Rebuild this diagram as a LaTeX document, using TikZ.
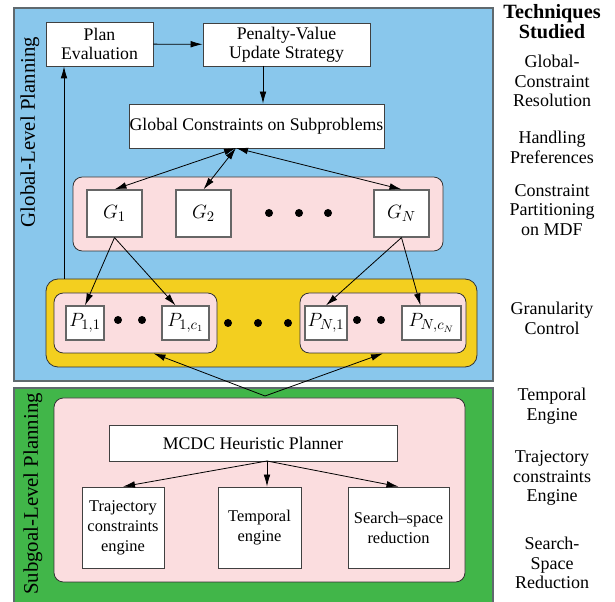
\documentclass[tikz,border=0pt]{standalone}
\usepackage{fontspec}
\setmainfont{Liberation Serif}
\usetikzlibrary{arrows.meta, fit, calc}
\definecolor{planblue}{RGB}{137,199,236}
\definecolor{subgreen}{RGB}{65,182,73}
\definecolor{partpink}{RGB}{251,221,223}
\definecolor{granyellow}{RGB}{243,207,31}
\definecolor{framegray}{RGB}{95,105,110}

\begin{document}
\begin{tikzpicture}[x=0.75pt, y=-0.75pt,
    >={Latex[length=9pt,width=5pt]},
    wh/.style 2 args={minimum width=#1*0.75pt, minimum height=#2*0.75pt},
    level/.style={draw=framegray, line width=0.8pt, inner sep=0pt},
    group/.style={draw=black!80, fill=partpink, rounded corners=7pt, inner sep=0pt, line width=0.6pt},
    box/.style={draw=black!75, fill=white, align=center, inner sep=0pt, line width=0.6pt,
        font=\fontsize{13.3}{14}\selectfont},
    ebox/.style={box, font=\fontsize{12.3}{15}\selectfont},
    mbox/.style={draw=black!60, fill=white, inner sep=0pt, line width=0.9pt, font=\fontsize{15}{16}\selectfont},
    sidelabel/.style={rotate=90, font=\fontsize{15.6}{17}\selectfont},
    tech/.style={align=center, font=\fontsize{13.5}{14.8}\selectfont},
    conn/.style={line width=0.6pt}]
    \useasboundingbox (0,0) rectangle (615,602);

    % planning levels
    \node[level, fill=planblue, fit={(14,8) (493,381)}] (glob) {};
    \node[level, fill=subgreen, fit={(14,388) (493,603)}] (subg) {};
    \node[sidelabel] (globlbl) at (30,132) {Global-Level Planning};
    \node[sidelabel] (subglbl) at (33,494) {Subgoal-Level Planning};

    % global level
    \node[box, wh={107}{44}] (eval) at (99.5,44) {Plan\\Evaluation};
    \node[box, wh={167}{43}] (penalty) at (286.5,44.5) {Penalty-Value\\Update Strategy};
    \node[box, wh={255}{44}] (gcons) at (256.5,126) {Global Constraints on Subproblems};

    % partitioned constraints
    \node[group, fit={(73,177) (443,251)}] (ggrp) {};
    \node[mbox, wh={55}{47}] (g1) at (114.5,213.5) {$G_1$};
    \node[mbox, wh={55}{47}] (g2) at (203.5,213.5) {$G_2$};
    \node[mbox, wh={55}{47}] (gn) at (401.5,213.5) {$G_N$};
    \foreach \x in {269,299,328}
        \fill (\x,213) circle (3pt);

    % granularity
    \node[group, fill=granyellow, rounded corners=9pt, fit={(46,279) (477,367)}] (gran) {};
    \node[group, fit={(54,293) (217,353)}] (lgrp) {};
    \node[group, fit={(300,293) (466,353)}] (rgrp) {};
    \node[mbox, wh={38}{34}] (p11) at (85,323) {$P_{1,1}$};
    \node[mbox, wh={47}{34}] (p1c) at (185.5,323) {$P_{1,c_1}$};
    \node[mbox, wh={42}{34}] (pn1) at (326,323) {$P_{N,1}$};
    \node[mbox, wh={59}{34}] (pnc) at (431.5,323) {$P_{N,c_N}$};
    \foreach \x in {118,142,357,381}
        \fill (\x,320) circle (3pt);
    \foreach \x in {228,258,288}
        \fill (\x,323) circle (3pt);

    % subgoal level
    \node[group, fit={(54,398) (465,582)}] (sgrp) {};
    \node[box, wh={288}{36}] (mcdc) at (253,443) {MCDC Heuristic Planner};
    \node[ebox, wh={82}{81}] (traj) at (123,527.5) {Trajectory\\constraints\\engine};
    \node[ebox, wh={83}{81}] (temp) at (259.5,527.5) {Temporal\\engine};
    \node[ebox, wh={101}{81}] (srch) at (398.5,527.5) {Search--space\\reduction};

    % connectors
    \coordinate (fb) at (64,279);
    \coordinate (upd) at (263,66);
    \coordinate (hub) at (236,148);
    \coordinate (vtip) at (265,396);
    \coordinate (mfoot) at (267,461);
    \draw[conn,->] (fb) -- (fb |- eval.south);
    \draw[conn,->] (eval) -- (penalty);
    \draw[conn,->] (upd) -- (upd |- gcons.north);
    \draw[conn,<->] (hub) -- (g1.north);
    \draw[conn,<->] (hub) -- (g2.north);
    \draw[conn,<->] (hub) -- (gn.north);
    \draw[conn,->] (g1.south) -- (p11.north);
    \draw[conn,->] (g1.south) -- ($(p1c.north)+(-10,0)$);
    \draw[conn,->] (gn.south) -- (pn1.north);
    \draw[conn,->] (gn.south) -- ($(pnc.north)+(-11,0)$);
    \draw[conn,->] (vtip) -- ($(lgrp.south)+(18,0)$);
    \draw[conn,->] (vtip) -- (rgrp.south);
    \draw[conn,->] (mfoot) -- (traj.north);
    \draw[conn,->] (mfoot) -- (mfoot |- temp.north);
    \draw[conn,->] (mfoot) -- (srch.north);

    % techniques column
    \node[tech, font=\bfseries\fontsize{15.2}{15}\selectfont] (thead) at (552,22) {Techniques\\Studied};
    \node[tech] (tres) at (552,81) {Global-\\Constraint\\Resolution};
    \node[tech] (tpref) at (552,147) {Handling\\Preferences};
    \node[tech] (tpart) at (552,210) {Constraint\\Partitioning\\on MDF};
    \node[tech] (tgran) at (552,318) {Granularity\\Control};
    \node[tech] (ttemp) at (552,406) {Temporal\\Engine};
    \node[tech] (ttraj) at (552,478) {Trajectory\\constraints\\Engine};
    \node[tech] (tsrch) at (552,563) {Search-\\Space\\Reduction};
\end{tikzpicture}
\end{document}
